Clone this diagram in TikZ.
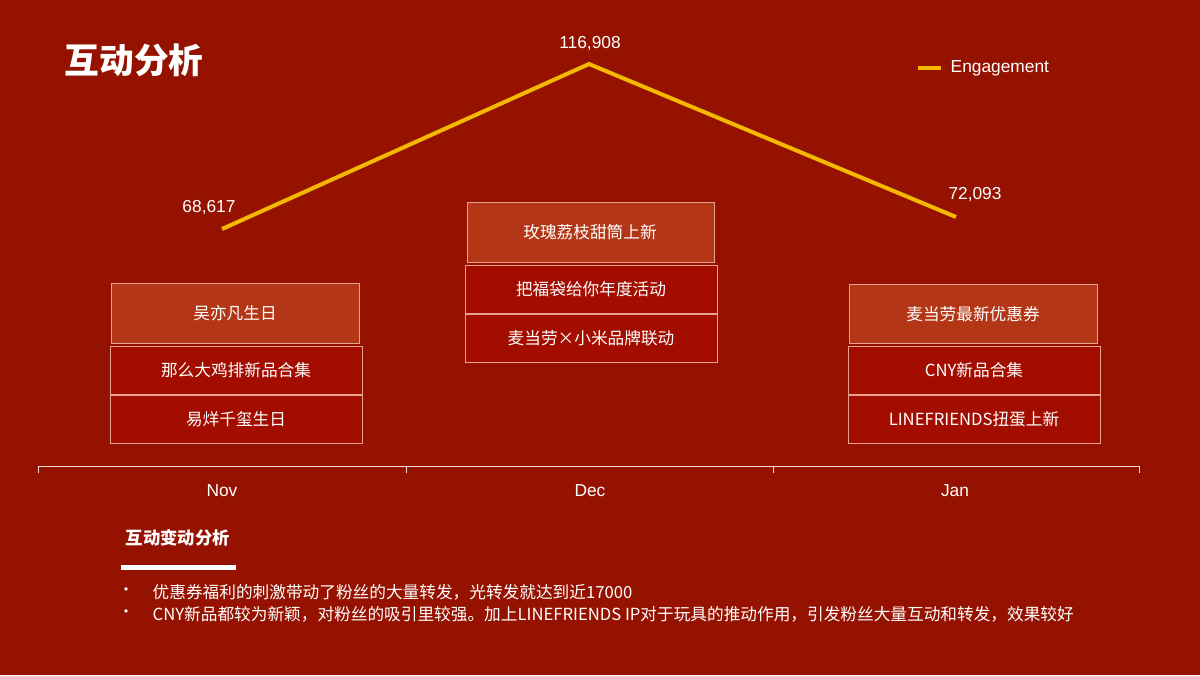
\documentclass[tikz,border=0pt]{standalone}
\usepackage{fontspec}
\setmainfont{Noto Sans CJK SC}
\newfontfamily\latinf{Liberation Sans}
\definecolor{bg}{HTML}{951200}
\definecolor{obox}{HTML}{B33716}
\definecolor{rbox}{HTML}{A30D00}
\definecolor{edge}{HTML}{E8A090}
\definecolor{lineY}{HTML}{F5B800}
\begin{document}
\begin{tikzpicture}[x=0.75pt,y=-0.75pt,
 ob/.style={draw=edge,fill=obox,line width=0.6pt},
 rb/.style={draw=edge,fill=rbox,line width=0.6pt},
 bt/.style={text=white,font=\fontsize{12.5}{14}\selectfont},
 lab/.style={text=white,font=\latinf\fontsize{13}{15}\selectfont},
 ax/.style={draw=white!85!bg,line width=0.6pt}]
\fill[bg] (0,0) rectangle (1200,675);
\useasboundingbox (0,0) rectangle (1200,675);
\node[anchor=west,text=white,font=\bfseries\fontsize{26}{30}\selectfont] (title) at (60,60) {互动分析};
% legend
\coordinate (lg1) at (918,68); \coordinate (lg2) at (941,68);
\draw[lineY,line width=2.5pt] (lg1) -- (lg2);
\node[lab,anchor=west] (lgt) at (946,68) {Engagement};
% line
\coordinate (p1) at (222,229); \coordinate (p2) at (589,64); \coordinate (p3) at (956,217);
\draw[lineY,line width=3pt,line join=round] (p1) -- (p2) -- (p3);
\node[lab] (v1) at (209,208) {68,617};
\node[lab] (v2) at (590,44) {116,908};
\node[lab] (v3) at (975,195) {72,093};
% boxes
\draw[ob] (111,283) rectangle (359,343); \node[bt] (n1) at (235,313) {吴亦凡生日};
\draw[rb] (110,346) rectangle (362,394); \node[bt] (n2) at (236,370) {那么大鸡排新品合集};
\draw[rb] (110,395) rectangle (362,443); \node[bt] (n3) at (236,419) {易烊千玺生日};
\draw[ob] (467,202) rectangle (714,262); \node[bt] (d1) at (590,232) {玫瑰荔枝甜筒上新};
\draw[rb] (465,265) rectangle (717,313); \node[bt] (d2) at (591,289) {把福袋给你年度活动};
\draw[rb] (465,314) rectangle (717,362); \node[bt] (d3) at (591,338) {麦当劳×小米品牌联动};
\draw[ob] (849,284) rectangle (1097,343); \node[bt] (j1) at (973,314) {麦当劳最新优惠券};
\draw[rb] (848,346) rectangle (1100,394); \node[bt] (j2) at (974,370) {CNY新品合集};
\draw[rb] (848,395) rectangle (1100,443); \node[bt] (j3) at (974,419) {LINEFRIENDS扭蛋上新};
% axis
\draw[ax] (38,466) -- (1139,466);
\foreach \x in {38,406,773,1139} \draw[ax] (\x,466) -- (\x,473);
\node[lab] (m1) at (222,491) {Nov};
\node[lab] (m2) at (590,491) {Dec};
\node[lab] (m3) at (955,491) {Jan};
% bottom
\node[anchor=west,text=white,font=\bfseries\fontsize{13}{15}\selectfont] (sub) at (121,538) {互动变动分析};
\fill[white] (121,565) rectangle (236,570);
\node[text=white,font=\fontsize{12}{14}\selectfont] (b1) at (126,592) {•};
\node[text=white,font=\fontsize{12}{14}\selectfont] (b2) at (126,614) {•};
\node[anchor=west,text=white,font=\fontsize{12.5}{14}\selectfont] (t1) at (148,592) {优惠券福利的刺激带动了粉丝的大量转发，光转发就达到近17000};
\node[anchor=west,text=white,font=\fontsize{12.5}{14}\selectfont] (t2) at (148,614) {CNY新品都较为新颖，对粉丝的吸引里较强。加上LINEFRIENDS IP对于玩具的推动作用，引发粉丝大量互动和转发，效果较好};
\end{tikzpicture}
\end{document}
